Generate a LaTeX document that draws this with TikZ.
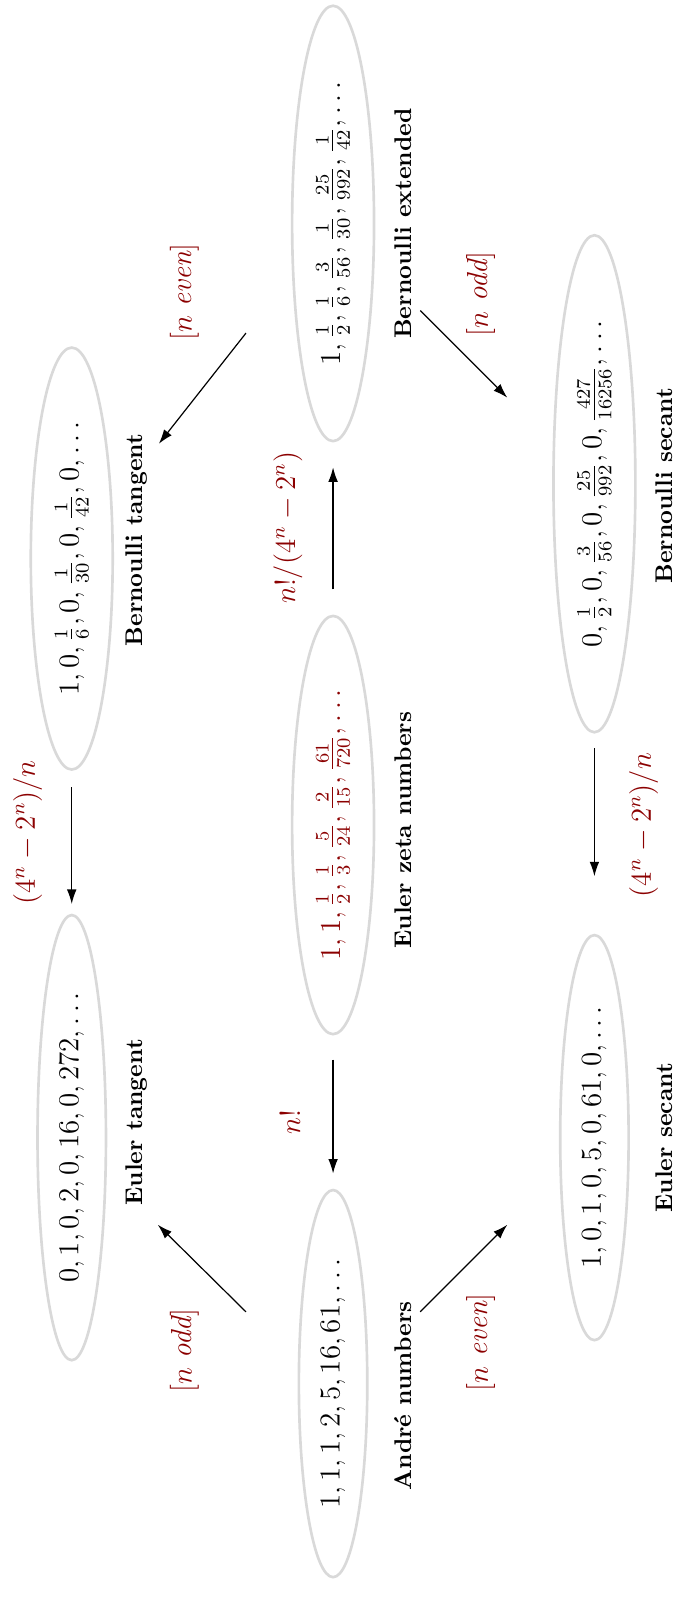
\documentclass[tikz,border=0pt]{standalone}
\usepackage{fontspec}
\usetikzlibrary{shapes.geometric,arrows.meta}
\definecolor{dred}{RGB}{139,0,0}
\definecolor{lgray}{RGB}{217,217,217}
\begin{document}
\begin{tikzpicture}[x=0.425pt,y=-0.425pt,
  seq/.style={ellipse,draw=lgray,line width=1.1pt,rotate=90,inner sep=5pt,font=\large},
  seqname/.style={rotate=90,font=\bfseries},
  lab/.style={rotate=90,text=dred,font=\large},
  arr/.style={-{Latex[length=6pt,width=4pt]},line width=0.5pt}]
\useasboundingbox (0,0) rectangle (659,1568);
% sequences
\node[seq] (btan) at (70,545) {$1,0,\frac16,0,\frac1{30},0,\frac1{42},0,\ldots$};
\node[seq] (etan) at (70,1110) {$0,1,0,2,0,16,0,272,\ldots$};
\node[seq] (bext) at (325,218) {$1,\frac12,\frac16,\frac3{56},\frac1{30},\frac{25}{992},\frac1{42},\ldots$};
\node[seq,text=dred] (ezeta) at (325,805) {$1,1,\frac12,\frac13,\frac5{24},\frac2{15},\frac{61}{720},\ldots$};
\node[seq] (andre) at (325,1350) {$1,1,1,2,5,16,61,\ldots$};
\node[seq] (bsec) at (580,472) {$0,\frac12,0,\frac3{56},0,\frac{25}{992},0,\frac{427}{16256},\ldots$};
\node[seq] (esec) at (580,1110) {$1,0,1,0,5,0,61,0,\ldots$};
% names
\node[seqname] (btanl) at (133,527) {Bernoulli tangent};
\node[seqname] (etanl) at (133,1095) {Euler tangent};
\node[seqname] (bextl) at (393,218) {Bernoulli extended};
\node[seqname] (ezetal) at (393,810) {Euler zeta numbers};
\node[seqname] (andrel) at (393,1362) {Andr\'e numbers};
\node[seqname] (bsecl) at (648,474) {Bernoulli secant};
\node[seqname] (esecl) at (648,1110) {Euler secant};
% arrow end points
\coordinate (a1s) at (70,768);   \coordinate (a1e) at (70,882);
\coordinate (a2s) at (240,325);  \coordinate (a2e) at (155,433);
\coordinate (a3s) at (410,303);  \coordinate (a3e) at (495,388);
\coordinate (a4s) at (325,575);  \coordinate (a4e) at (325,456);
\coordinate (a5s) at (325,1034); \coordinate (a5e) at (325,1145);
\coordinate (a6s) at (240,1280); \coordinate (a6e) at (154,1195);
\coordinate (a7s) at (410,1280); \coordinate (a7e) at (495,1195);
\coordinate (a8s) at (580,730);  \coordinate (a8e) at (580,855);
\draw[arr] (a1s) -- (a1e);
\draw[arr] (a2s) -- (a2e);
\draw[arr] (a3s) -- (a3e);
\draw[arr] (a4s) -- (a4e);
\draw[arr] (a5s) -- (a5e);
\draw[arr] (a6s) -- (a6e);
\draw[arr] (a7s) -- (a7e);
\draw[arr] (a8s) -- (a8e);
% arrow labels
\node[lab] (l1) at (27,812) {$(4^n-2^n)/n$};
\node[lab] (l2) at (180,285) {$[n\ \textit{even}]$};
\node[lab] (l3) at (469,287) {$[n\ \textit{odd}]$};
\node[lab] (l4) at (281,515) {$n!/(4^n-2^n)$};
\node[lab] (l5) at (283,1095) {$n!$};
\node[lab] (l6) at (180,1318) {$[n\ \textit{odd}]$};
\node[lab] (l7) at (469,1310) {$[n\ \textit{even}]$};
\node[lab] (l8) at (628,805) {$(4^n-2^n)/n$};
\end{tikzpicture}
\end{document}
